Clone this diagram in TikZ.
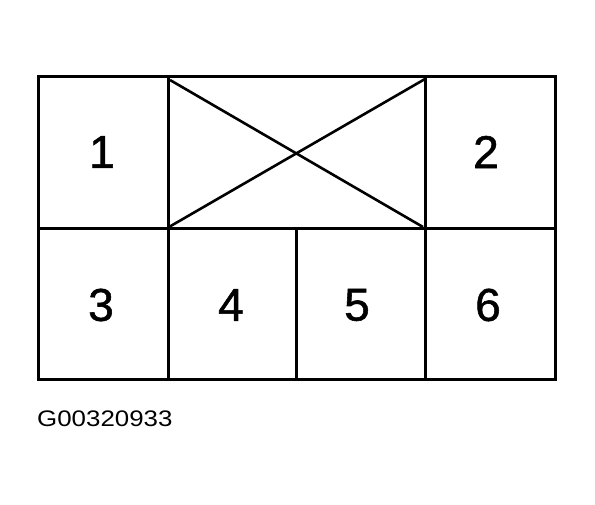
\documentclass[tikz,border=0pt]{standalone}
\usepackage{fontspec}
\setmainfont{Liberation Sans}
\newfontfamily\numfont[FakeBold=1.2]{Liberation Sans}
\begin{document}
\begin{tikzpicture}[x=1pt,y=-1pt,
  box/.style={line width=3pt},
  num/.style={font=\numfont\fontsize{46}{46}\selectfont, inner sep=0pt, anchor=center},
  code/.style={font=\fontsize{22.5}{22.5}\selectfont, inner sep=0pt, anchor=base west, xscale=1.15}]
\useasboundingbox (0,0) rectangle (595,504);
\coordinate (TL) at (38,76);
\coordinate (BR) at (555,379);
\coordinate (ML) at (38,228);
\coordinate (MR) at (555,228);
\coordinate (V1t) at (168,76);
\coordinate (V1b) at (168,379);
\coordinate (V2t) at (296,228);
\coordinate (V2b) at (296,379);
\coordinate (V3t) at (425,76);
\coordinate (V3b) at (425,379);
\coordinate (Xa) at (170,80);
\coordinate (Xb) at (423,227);
\coordinate (Xc) at (169,227);
\coordinate (Xd) at (425,79);
\draw[box] (TL) rectangle (BR);
\draw[box] (ML) -- (MR);
\draw[box] (V1t) -- (V1b);
\draw[box] (V2t) -- (V2b);
\draw[box] (V3t) -- (V3b);
\draw[line width=2.6pt] (Xa) -- (Xb);
\draw[line width=2.6pt] (Xc) -- (Xd);
\node[num] (n1) at (102,152) {1};
\node[num] (n2) at (486,152) {2};
\node[num] (n3) at (101,305) {3};
\node[num] (n4) at (231,305) {4};
\node[num] (n5) at (357,305) {5};
\node[num] (n6) at (488,305) {6};
\node[code] (lbl) at (37,426) {G00320933};
\end{tikzpicture}
\end{document}
